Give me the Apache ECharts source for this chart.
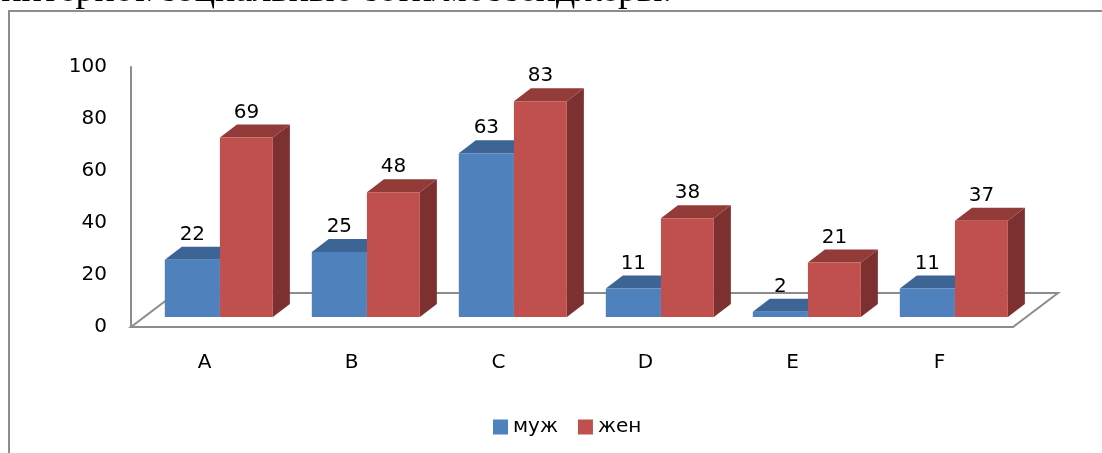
<!DOCTYPE html>
<html>
<head>
<meta charset="utf-8">
<script src="https://cdn.jsdelivr.net/npm/echarts@6/dist/echarts.min.js"></script>
<style>
html,body{margin:0;padding:0;background:#fff;}
#chart{width:1102px;height:453px;}
</style>
</head>
<body>
<div id="chart"></div>
<script>
const categories = ['A', 'B', 'C', 'D', 'E', 'F'];
const male = [22, 25, 63, 11, 2, 11];
const female = [69, 48, 83, 38, 21, 37];
const seriesNames = ['муж', 'жен'];
const yMin = 0, yMax = 100, yInterval = 20;
const headerText = 'интернет/социальные сети/мессенджеры.';

const FONT = '"DejaVu Sans", sans-serif';
const FS = 20;
const palettes = [
  { front: '#4F81BD', top: '#3C6595', side: '#30557F' },
  { front: '#C0504D', top: '#923B39', side: '#7C302F' }
];
const DX = 17, DY = 13, LIFT = 10;

function makeBarRenderer(k) {
  return function (params, api) {
    const ci = api.value(0), v = api.value(1);
    const base = api.coord([ci, 0]);
    const topP = api.coord([ci, v]);
    const band = api.size([1, 0])[0];
    const cx = base[0];
    const edges = [cx - 0.27 * band, cx + 0.105 * band, cx + 0.465 * band];
    const x0 = edges[k], x1 = edges[k + 1];
    const yb = base[1] - LIFT, yt = topP[1] - LIFT;
    const p = palettes[k];
    return {
      type: 'group',
      children: [
        { type: 'polygon', shape: { points: [[x1, yb], [x1 + DX, yb - DY], [x1 + DX, yt - DY], [x1, yt]] }, style: { fill: p.side } },
        { type: 'polygon', shape: { points: [[x0, yt], [x1, yt], [x1 + DX, yt - DY], [x0 + DX, yt - DY]] }, style: { fill: p.top } },
        { type: 'rect', shape: { x: x0, y: yt, width: x1 - x0, height: yb - yt }, style: { fill: p.front } },
        { type: 'text', style: { text: String(v), x: (x0 + x1) / 2, y: yt - DY - 12, align: 'center', verticalAlign: 'middle', fill: '#000', font: FS + 'px ' + FONT } }
      ]
    };
  };
}

function renderFloor(params, api) {
  const cs = params.coordSys;
  const fx0 = cs.x, fx1 = cs.x + cs.width, fy = cs.y + cs.height;
  const bx = 45, by = 34;
  return {
    type: 'polygon',
    shape: { points: [[fx0, fy], [fx1, fy], [fx1 + bx, fy - by], [fx0 + bx, fy - by]] },
    style: { fill: '#fff', stroke: '#8c8c8c', lineWidth: 2 }
  };
}

const chart = echarts.init(document.getElementById('chart'), null, { renderer: 'canvas' });
chart.setOption({
  animation: false,
  backgroundColor: '#fff',
  grid: { left: 131, right: 89, top: 67, bottom: 126 },
  xAxis: {
    type: 'category',
    data: categories,
    axisLine: { show: true, lineStyle: { color: '#8c8c8c', width: 2 } },
    axisTick: { show: false },
    axisLabel: { color: '#000', fontSize: FS, fontFamily: FONT, margin: 26 },
    z: 5
  },
  yAxis: {
    type: 'value',
    min: yMin, max: yMax, interval: yInterval,
    axisLine: { show: true, lineStyle: { color: '#8c8c8c', width: 2 } },
    axisTick: { show: false },
    splitLine: { show: false },
    axisLabel: { color: '#000', fontSize: FS, fontFamily: FONT, margin: 24 }
  },
  legend: {
    data: seriesNames,
    left: 488, top: 412,
    icon: 'rect',
    itemWidth: 15, itemHeight: 15,
    itemGap: 20,
    textStyle: { color: '#000', fontSize: FS, fontFamily: FONT }
  },
  graphic: [
    { type: 'rect', shape: { x: 9, y: 11, width: 1200, height: 600 }, style: { fill: 'none', stroke: '#8c8c8c', lineWidth: 2 }, silent: true, z: 100 },
    { type: 'text', x: 672, y: -9, style: { text: headerText, align: 'right', verticalAlign: 'middle', fill: '#000', font: '38px "Liberation Serif", serif' }, silent: true, z: 100 }
  ],
  series: [
    { type: 'custom', name: '_floor', silent: true, renderItem: renderFloor, data: [[0, 0]], z: 1 },
    { type: 'custom', name: seriesNames[0], itemStyle: { color: palettes[0].front }, renderItem: makeBarRenderer(0), data: male.map((v, i) => [i, v]), z: 2 },
    { type: 'custom', name: seriesNames[1], itemStyle: { color: palettes[1].front }, renderItem: makeBarRenderer(1), data: female.map((v, i) => [i, v]), z: 3 }
  ]
});
</script>
</body>
</html>
